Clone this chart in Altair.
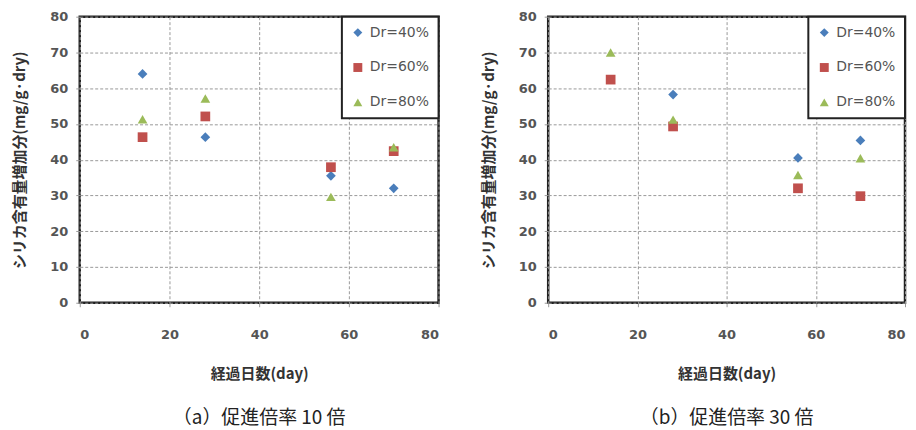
import altair as alt
import pandas as pd

# ---- data ----
series = ["Dr=40%", "Dr=60%", "Dr=80%"]
colors = ["#4a7ebb", "#c0504d", "#9bbb59"]
shapes = ["diamond", "square", "triangle-up"]

# (a) 促進倍率 10 倍
a_days = [14, 28, 56, 70]
a_dr40 = [64.0, 46.3, 35.5, 32.0]
a_dr60 = [46.3, 52.1, 37.9, 42.4]
a_dr80 = [51.3, 57.1, 29.6, 43.5]

# (b) 促進倍率 30 倍
b_days40 = [28, 56, 70]
b_dr40 = [58.2, 40.5, 45.4]
b_days = [14, 28, 56, 70]
b_dr60 = [62.4, 49.3, 32.0, 29.8]
b_dr80 = [70.0, 51.2, 35.7, 40.4]

x_ticks = [0, 20, 40, 60, 80]
y_ticks = [0, 10, 20, 30, 40, 50, 60, 70, 80]

captions = ["（a）促進倍率 10 倍", "（b）促進倍率 30 倍"]
x_title = "経過日数(day)"
y_title = "シリカ含有量増加分(mg/g·dry)"


def frame(pairs):
    rows = []
    for name, days, vals in pairs:
        for d, v in zip(days, vals):
            rows.append({"series": name, "day": d, "val": v})
    return pd.DataFrame(rows)


df_a = frame([(series[0], a_days, a_dr40), (series[1], a_days, a_dr60), (series[2], a_days, a_dr80)])
df_b = frame([(series[0], b_days40, b_dr40), (series[1], b_days, b_dr60), (series[2], b_days, b_dr80)])

CJK = "Noto Sans CJK JP"


def panel(df, caption, w):
    leg = alt.Legend(
        title=None,
        orient="none",
        legendX=w - 97,
        legendY=0,
        padding=9,
        rowPadding=21,
        symbolSize=80,
        labelFontSize=14,
        labelFont="DejaVu Sans",
        labelColor="#555",
        labelOffset=5,
        fillColor="white",
        strokeColor="#222",
        symbolStrokeWidth=0,
    )
    return (
        alt.Chart(df)
        .mark_point(filled=True, opacity=1, size=95, strokeWidth=0)
        .encode(
            x=alt.X(
                "day:Q",
                scale=alt.Scale(domain=[0, 80], nice=False),
                axis=alt.Axis(values=x_ticks, title=x_title, labelPadding=22, titlePadding=25),
            ),
            y=alt.Y(
                "val:Q",
                scale=alt.Scale(domain=[0, 80], nice=False),
                axis=alt.Axis(values=y_ticks, title=y_title, labelPadding=8, titlePadding=22),
            ),
            color=alt.Color("series:N", scale=alt.Scale(domain=series, range=colors), legend=leg),
            shape=alt.Shape("series:N", scale=alt.Scale(domain=series, range=shapes), legend=leg),
            order=alt.Order("series:N"),
        )
        .properties(
            width=w,
            height=287,
            title=alt.TitleParams(
                caption,
                orient="bottom",
                font=CJK,
                fontSize=19,
                fontWeight="normal",
                color="#222",
                offset=28,
            ),
        )
    )


chart = (
    alt.hconcat(panel(df_a, captions[0], 360), panel(df_b, captions[1], 358), spacing=38)
    .resolve_scale(color="independent", shape="independent")
    .properties(padding={"left": 3, "top": 0, "right": 0, "bottom": 0})
    .configure_view(stroke="#222", strokeWidth=2.5)
    .configure_axis(
        domain=False,
        grid=True,
        gridColor="#999",
        gridDash=[3, 2],
        gridWidth=1,
        tickColor="#999",
        tickSize=4,
        labelFont="DejaVu Sans",
        labelFontSize=13,
        labelFontWeight="bold",
        labelColor="#555",
        titleFont=CJK,
        titleFontSize=15,
        titleFontWeight="bold",
        titleColor="#333",
    )
    .configure_legend(strokeWidth=2)
)

chart.save("out.html", embed_options={"renderer": "svg", "actions": False})
